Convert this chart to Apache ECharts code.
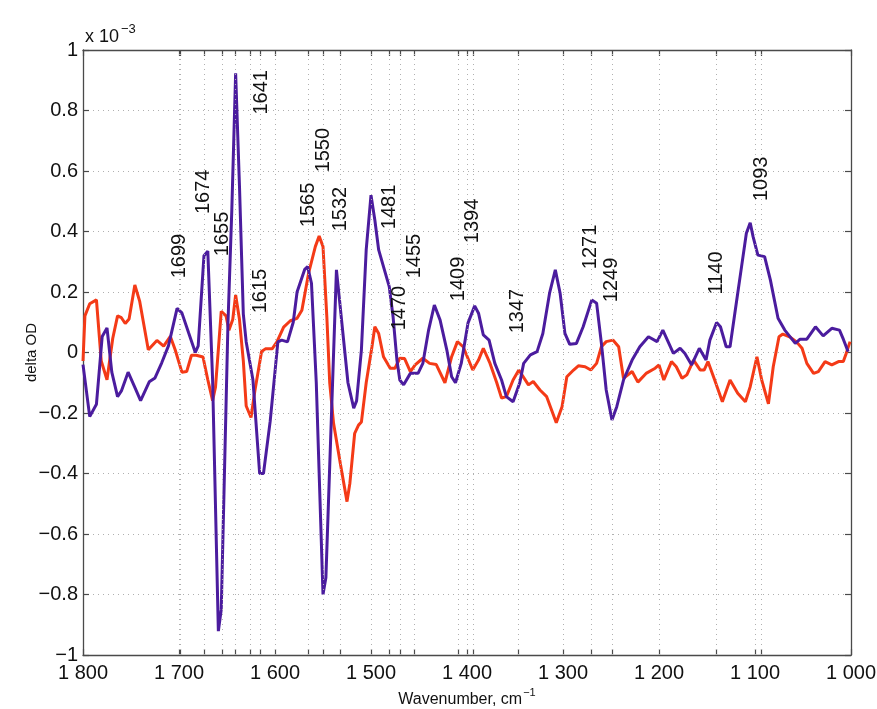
<!DOCTYPE html>
<html>
<head>
<meta charset="utf-8">
<script src="https://cdn.jsdelivr.net/npm/echarts@6/dist/echarts.min.js"></script>
<style>
  html, body { margin: 0; padding: 0; background: #fff; }
  #chart { width: 877px; height: 709px; }
</style>
</head>
<body>
<div id="chart"></div>
<script>
// wavenumber (cm-1) and delta OD (x 1e-3)
const purpleWn = [1800, 1793, 1786, 1780, 1775, 1770, 1764, 1760, 1753, 1746, 1740, 1731, 1725, 1718, 1711,
  1702, 1697, 1690, 1683, 1680, 1674, 1670, 1665, 1659, 1656, 1649, 1645, 1641, 1637, 1633, 1630, 1623,
  1616, 1612, 1605, 1597, 1593, 1587, 1581, 1577, 1569, 1566, 1562, 1557, 1550, 1547, 1536, 1531, 1524,
  1518, 1515, 1510, 1505, 1500, 1496, 1492, 1487, 1481, 1477, 1473, 1470, 1466, 1459, 1451, 1446, 1440,
  1434, 1428, 1421, 1416, 1412, 1406, 1399, 1392, 1388, 1383, 1377, 1371, 1364, 1359, 1352, 1345, 1341,
  1334, 1327, 1321, 1314, 1308, 1303, 1298, 1293, 1286, 1279, 1270, 1265, 1260, 1255, 1249, 1244, 1237,
  1228, 1220, 1211, 1202, 1196, 1185, 1178, 1173, 1166, 1158, 1151, 1147, 1140, 1136, 1130, 1126, 1121,
  1114, 1109, 1105, 1102, 1097, 1090, 1084, 1076, 1069, 1058, 1053, 1046, 1037, 1029, 1020, 1012, 1008, 1003];
const purpleOD = [-0.04, -0.212, -0.171, 0.053, 0.081, -0.065, -0.146, -0.127, -0.065, -0.115, -0.159, -0.097, -0.084, -0.034, 0.022,
  0.146, 0.131, 0.065, 0.0, 0.022, 0.32, 0.335, -0.09, -0.921, -0.85, 0.096, 0.47, 0.923, 0.55, 0.127, 0.035, -0.09,
  -0.40, -0.40, -0.227, 0.035, 0.041, 0.035, 0.1, 0.2, 0.275, 0.284, 0.229, -0.10, -0.80, -0.745, 0.273, 0.118, -0.10,
  -0.184, -0.16, 0.008, 0.339, 0.52, 0.438, 0.339, 0.284, 0.218, 0.118, -0.025, -0.091, -0.107, -0.069, -0.069, -0.036, 0.074,
  0.157, 0.107, 0.008, -0.08, -0.10, -0.036, 0.097, 0.154, 0.13, 0.058, 0.041, -0.036, -0.091, -0.146, -0.163, -0.10, -0.036,
  -0.008, 0.003, 0.063, 0.196, 0.273, 0.196, 0.063, 0.027, 0.03, 0.085, 0.174, 0.163, 0.03, -0.124, -0.223, -0.179, -0.091,
  -0.025, 0.019, 0.052, 0.036, 0.074, -0.003, 0.014, -0.003, -0.041, 0.014, -0.025, 0.041, 0.099, 0.085, 0.019, 0.019, 0.13,
  0.284, 0.394, 0.429, 0.383, 0.322, 0.317, 0.24, 0.113, 0.074, 0.03, 0.044, 0.044, 0.085, 0.055, 0.08, 0.074, 0.044, 0.003];

const orangeWn = [1800, 1798, 1793, 1786, 1781, 1775, 1769, 1764, 1760, 1756, 1752, 1746, 1741, 1732, 1723, 1716,
  1709, 1704, 1697, 1692, 1687, 1682, 1675, 1670, 1665, 1662, 1656, 1651, 1648, 1644, 1641, 1637, 1633, 1630,
  1625, 1621, 1614, 1610, 1603, 1598, 1591, 1584, 1577, 1572, 1565, 1558, 1554, 1550, 1546, 1543, 1539, 1532,
  1525, 1522, 1517, 1513, 1510, 1505, 1499, 1496, 1492, 1487, 1480, 1475, 1470, 1465, 1459, 1454, 1446, 1439,
  1432, 1423, 1416, 1410, 1404, 1394, 1388, 1383, 1376, 1369, 1364, 1359, 1352, 1346, 1336, 1331, 1324, 1317,
  1307, 1301, 1296, 1289, 1284, 1277, 1271, 1265, 1260, 1255, 1248, 1242, 1237, 1228, 1222, 1213, 1204, 1200,
  1195, 1187, 1182, 1176, 1171, 1164, 1157, 1153, 1149, 1142, 1134, 1126, 1118, 1110, 1105, 1098, 1093, 1086,
  1081, 1075, 1071, 1064, 1057, 1051, 1046, 1039, 1034, 1027, 1020, 1013, 1008, 1005, 1001];
const orangeOD = [-0.028, 0.121, 0.161, 0.174, -0.028, -0.09, 0.047, 0.121, 0.115, 0.096, 0.111, 0.223, 0.17, 0.009, 0.04, 0.021,
  0.053, 0.009, -0.065, -0.063, -0.009, -0.009, -0.015, -0.09, -0.159, -0.115, 0.136, 0.121, 0.074, 0.109, 0.19, 0.109, -0.028, -0.177,
  -0.215, -0.127, 0.003, 0.012, 0.012, 0.035, 0.084, 0.105, 0.113, 0.14, 0.262, 0.35, 0.385, 0.35, 0.118, -0.10, -0.234, -0.366,
  -0.493, -0.432, -0.267, -0.24, -0.23, -0.10, 0.019, 0.085, 0.063, -0.014, -0.052, -0.052, -0.019, -0.02, -0.063, -0.041, -0.019, -0.036,
  -0.04, -0.10, -0.014, 0.036, 0.019, -0.058, -0.025, 0.014, -0.036, -0.10, -0.151, -0.146, -0.091, -0.058, -0.107, -0.096, -0.124, -0.146,
  -0.232, -0.179, -0.08, -0.058, -0.044, -0.047, -0.058, -0.036, 0.019, 0.036, 0.041, 0.019, -0.085, -0.063, -0.098, -0.068, -0.052, -0.041,
  -0.091, -0.03, -0.047, -0.085, -0.074, -0.025, -0.058, -0.058, -0.03, -0.091, -0.163, -0.091, -0.135, -0.163, -0.113, -0.014, -0.091, -0.17,
  -0.047, 0.052, 0.061, 0.052, 0.036, 0.014, -0.036, -0.069, -0.063, -0.03, -0.041, -0.03, -0.03, -0.003, 0.036];

// annotated band positions
const peaks = [1699, 1674, 1655, 1641, 1615, 1565, 1550, 1532, 1481, 1470, 1455, 1409, 1394, 1347, 1271, 1249, 1140, 1093];
// where each rotated label sits (x, y in data units)
const peakLabelX = [1699, 1674, 1655, 1614, 1615, 1565, 1550, 1532, 1481, 1470, 1455, 1409, 1394, 1347, 1271, 1249, 1140, 1093];
const peakLabelY = [0.319, 0.531, 0.392, 0.86, 0.203, 0.488, 0.669, 0.474, 0.481, 0.147, 0.319, 0.243, 0.435, 0.137, 0.349, 0.24, 0.263, 0.574];

const majorTicks = [1800, 1700, 1600, 1500, 1400, 1300, 1200, 1100, 1000];
const extraTicks = [1626];

const tickValues = majorTicks.concat(peaks, extraTicks).sort((a, b) => a - b);
const gridXValues = tickValues.filter((v) => v > 1000 && v < 1800);

const FONT = 'Liberation Sans, Arial, sans-serif';
const TXT = '#111111';
const AXIS = '#4a4a4a';

const chart = echarts.init(document.getElementById('chart'));

const minus = (s) => s.replace('-', '\u2212');

const option = {
  backgroundColor: '#ffffff',
  animation: false,
  title: {
    text: '{a|x 10}{b|\u22123}',
    left: 80,
    top: 13,
    textStyle: {
      fontWeight: 'normal',
      rich: {
        a: { fontFamily: FONT, fontSize: 18, fontWeight: 'normal', color: TXT, padding: [10, 0, 0, 0] },
        b: { fontFamily: FONT, fontSize: 13, fontWeight: 'normal', color: TXT, padding: [0, 0, 6, 2] }
      }
    }
  },
  grid: { left: 83, right: 26, top: 50, bottom: 54, outerBoundsMode: 'none', containLabel: false },
  xAxis: [{
    type: 'value',
    inverse: true,
    min: 1000,
    max: 1800,
    interval: 100,
    position: 'bottom',
    name: '{a|Wavenumber, cm}{b|\u22121}',
    nameLocation: 'middle',
    nameGap: 27,
    nameTextStyle: {
      rich: {
        a: { fontFamily: FONT, fontSize: 16, color: TXT, padding: [6, 0, 0, 0] },
        b: { fontFamily: FONT, fontSize: 11, color: TXT, padding: [0, 0, 6, 1] }
      }
    },
    axisLine: { show: true, onZero: false, lineStyle: { color: AXIS, width: 1.3 } },
    axisTick: { show: true, inside: true, length: 6, customValues: tickValues, lineStyle: { color: AXIS, width: 1.2 } },
    axisLabel: {
      fontFamily: FONT, fontSize: 20, color: TXT, margin: 8,
      formatter: (v) => String(v).replace(/^(\d)(\d{3})$/, '$1 $2')
    },
    splitLine: { show: false }
  }, {
    type: 'value',
    inverse: true,
    min: 1000,
    max: 1800,
    interval: 100,
    position: 'top',
    axisLine: { show: true, onZero: false, lineStyle: { color: AXIS, width: 1.3 } },
    axisTick: { show: true, inside: true, length: 6, customValues: tickValues, lineStyle: { color: AXIS, width: 1.2 } },
    axisLabel: { show: false },
    splitLine: { show: false }
  }],
  yAxis: [{
    type: 'value',
    min: -1,
    max: 1,
    interval: 0.2,
    position: 'left',
    name: 'delta OD',
    nameLocation: 'middle',
    nameGap: 44,
    nameMoveOverlap: false,
    nameTextStyle: { fontFamily: FONT, fontSize: 15, color: TXT },
    axisLine: { show: true, onZero: false, lineStyle: { color: AXIS, width: 1.3 } },
    axisTick: { show: true, inside: true, length: 6, lineStyle: { color: AXIS, width: 1.2 } },
    axisLabel: {
      fontFamily: FONT, fontSize: 20, color: TXT, margin: 5,
      formatter: (v) => minus(String(Math.round(v * 10) / 10))
    },
    splitLine: { show: true, lineStyle: { color: '#b0b0b0', type: [1, 4], width: 1 } }
  }, {
    type: 'value',
    min: -1,
    max: 1,
    interval: 0.2,
    position: 'right',
    axisLine: { show: true, onZero: false, lineStyle: { color: AXIS, width: 1.3 } },
    axisTick: { show: true, inside: true, length: 6, lineStyle: { color: AXIS, width: 1.2 } },
    axisLabel: { show: false },
    splitLine: { show: false }
  }],
  series: [{
    name: 'grid',
    type: 'line',
    data: [],
    silent: true,
    markLine: {
      silent: true,
      symbol: 'none',
      label: { show: false },
      lineStyle: { color: '#b0b0b0', type: [1, 4], width: 1 },
      data: gridXValues.map((v) => ({ xAxis: v }))
    }
  }, {
    name: 'orange',
    type: 'line',
    data: orangeWn.map((w, i) => [w, orangeOD[i]]),
    showSymbol: false,
    lineStyle: { color: '#f43a17', width: 3 },
    itemStyle: { color: '#f43a17' },
    z: 3
  }, {
    name: 'purple',
    type: 'line',
    data: purpleWn.map((w, i) => [w, purpleOD[i]]),
    showSymbol: false,
    lineStyle: { color: '#4b1c9e', width: 3 },
    itemStyle: { color: '#4b1c9e' },
    z: 4
  }, {
    name: 'labels',
    type: 'scatter',
    symbolSize: 0,
    silent: true,
    z: 5,
    itemStyle: { opacity: 1 },
    data: peaks.map((p, i) => ({ name: String(p), value: [peakLabelX[i], peakLabelY[i]] })),
    label: {
      show: true,
      position: 'inside',
      rotate: 90,
      formatter: '{b}',
      fontFamily: FONT,
      fontSize: 20,
      color: TXT,
      opacity: 1
    }
  }]
};

chart.setOption(option);
</script>
</body>
</html>
